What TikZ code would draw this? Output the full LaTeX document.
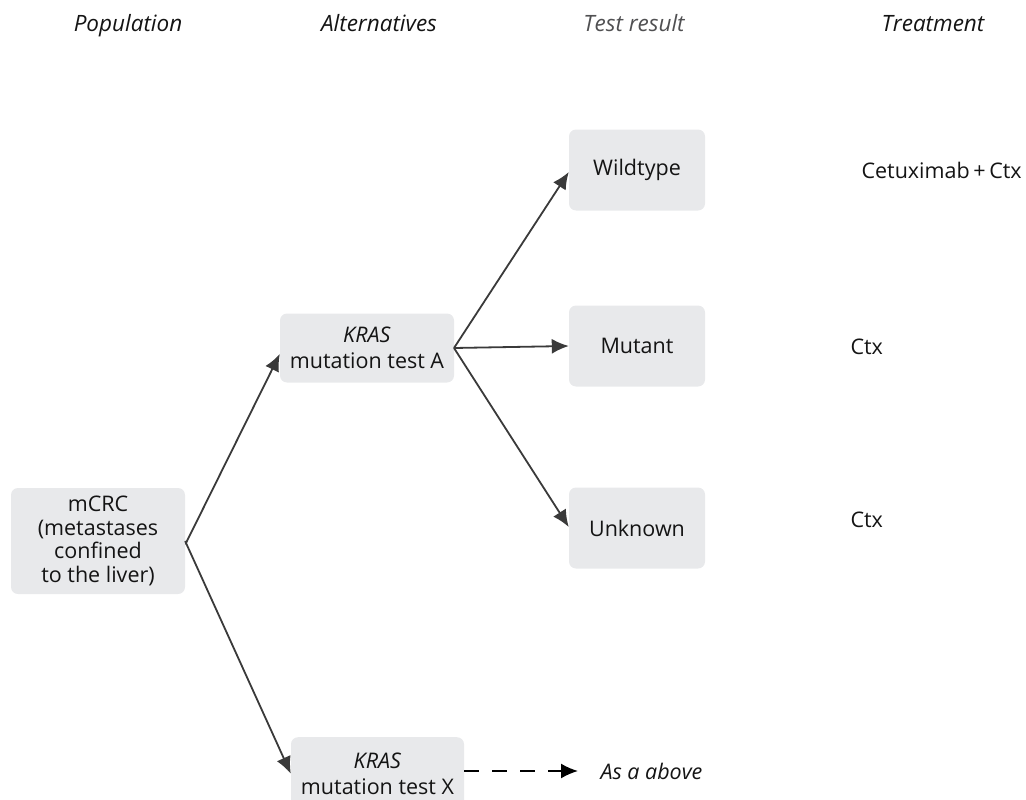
\documentclass[tikz,border=0pt]{standalone}
\usepackage{fontspec}
\setmainfont{Open Sans}
\usetikzlibrary{arrows.meta}
\definecolor{boxfill}{HTML}{E8E9EB}
\definecolor{linecol}{HTML}{3A3A3A}
\definecolor{txt}{HTML}{141414}
\definecolor{graytxt}{HTML}{505052}
\begin{document}
\begin{tikzpicture}[x=1pt,y=-1pt,
  box/.style={fill=boxfill, rounded corners=7pt, inner sep=0pt, align=center,
    text=txt, font=\fontsize{21.5}{23.5}\selectfont},
  hdr/.style={font=\fontsize{22.5}{26}\selectfont\itshape, text=txt, anchor=base},
  lbl/.style={font=\fontsize{21.5}{26}\selectfont, text=txt, anchor=base west},
  conn/.style={draw=linecol, line width=1.8pt, -{Latex[length=17pt,width=15pt]}},
  dconn/.style={draw=black, line width=1.8pt, dash pattern=on 15pt off 13pt, -{Latex[length=17pt,width=15pt]}}]
\useasboundingbox (0,0) rectangle (1026,800);
% headers
\node[hdr] (h1) at (128,32) {Population};
\node[hdr] (h2) at (379,32) {Alternatives};
\node[hdr, text=graytxt] (h3) at (634,32) {Test result};
\node[hdr] (h4) at (933,32) {Treatment};
% boxes
\node[box, minimum width=174pt, minimum height=106pt] (pop) at (98,541)
  {mCRC\\(metastases\\confined\\to the liver)};
\node[box, minimum width=174pt, minimum height=69pt] (ka) at (367,348)
  {\textit{KRAS}\\[3pt]mutation test A};
\node[box, minimum width=173pt, minimum height=73pt, anchor=north] (kx) at (377.5,737)
  {\textit{KRAS}\\[3pt]mutation test X};
\node[box, minimum width=136pt, minimum height=81pt] (wt) at (637,170) {Wildtype};
\node[box, minimum width=136pt, minimum height=81pt] (mu) at (637,346) {Mutant};
\node[box, minimum width=136pt, minimum height=81pt] (un) at (637,528) {Unknown};
% treatments
\node[lbl] (t1) at (858,178) {Cetuximab\,+\,Ctx};
\node[lbl] (t2) at (847,354) {Ctx};
\node[lbl] (t3) at (847,527) {Ctx};
\node[lbl, font=\fontsize{21.5}{26}\selectfont\itshape] (asab) at (597,779) {As a above};
% branch points
\coordinate (bp) at (186,543);
\coordinate (ba) at (454,348);
\coordinate (asin) at (578,771);
% connectors
\draw[conn] (pop.east) -- (bp) -- ([yshift=-6pt]ka.west);
\draw[conn] (bp) -- (kx.west);
\draw[conn] (ba) -- ([yshift=-2pt]wt.west);
\draw[conn] (ba) -- (mu.west);
\draw[conn] (ba) -- ([yshift=1pt]un.west);
\draw[dconn] (kx.east |- asin) -- (asin);
\end{tikzpicture}
\end{document}
